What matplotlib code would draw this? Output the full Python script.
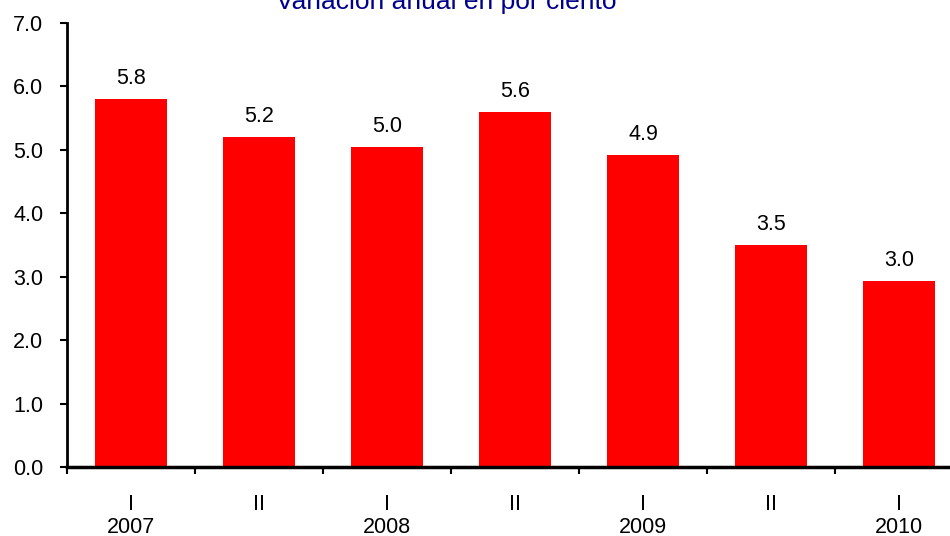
import matplotlib
matplotlib.use("Agg")
import matplotlib.pyplot as plt
import numpy as np

plt.rcParams['font.family'] = ['Liberation Sans', 'DejaVu Sans']

quarters = ["I", "II", "I", "II", "I", "II", "I"]
years = ["2007", "", "2008", "", "2009", "", "2010"]
values = [5.8, 5.2, 5.05, 5.6, 4.92, 3.5, 2.94]
value_labels = ["5.8", "5.2", "5.0", "5.6", "4.9", "3.5", "3.0"]
yticks = [0, 1, 2, 3, 4, 5, 6, 7]
title = "Variación anual en por ciento"

FS = 15.5

fig = plt.figure(figsize=(9.5, 5.36), dpi=100)
ax = fig.add_axes([67/950, 1-467/536, 896/950, 444/536])

x = np.arange(len(values))
ax.bar(x, values, width=0.5625, color="#ff0000", zorder=2)
for xi, v, lab in zip(x, values, value_labels):
    ax.annotate(lab, (xi, v), xytext=(0, 7), textcoords="offset points",
                ha="center", va="bottom", fontsize=FS)

ax.set_xlim(-0.5, len(values) - 0.5)
ax.set_ylim(0, 7)
ax.set_yticks(yticks)
ax.set_yticklabels([f"{t:.1f}" for t in yticks], fontsize=FS)

ax.set_xticks(x)
ax.set_xticklabels([f"{q}\n{y}" for q, y in zip(quarters, years)], fontsize=FS,
                   linespacing=1.1)
ax.tick_params(axis="x", which="major", length=0, pad=19.5)
ax.set_xticks(np.arange(-0.5, len(values) + 0.5, 1.0), minor=True)
ax.tick_params(axis="x", which="minor", length=5, width=1.5, direction="out")
ax.tick_params(axis="y", length=5, width=1.5, direction="out", pad=12)

for s in ["top", "right"]:
    ax.spines[s].set_visible(False)
ax.spines["left"].set_linewidth(2)
ax.spines["bottom"].set_linewidth(2.5)

fig.text(446/950, 1 - 9/536, title, ha="center", va="baseline",
         fontsize=19, color="#00008b")

fig.savefig("out.png", dpi=100)
